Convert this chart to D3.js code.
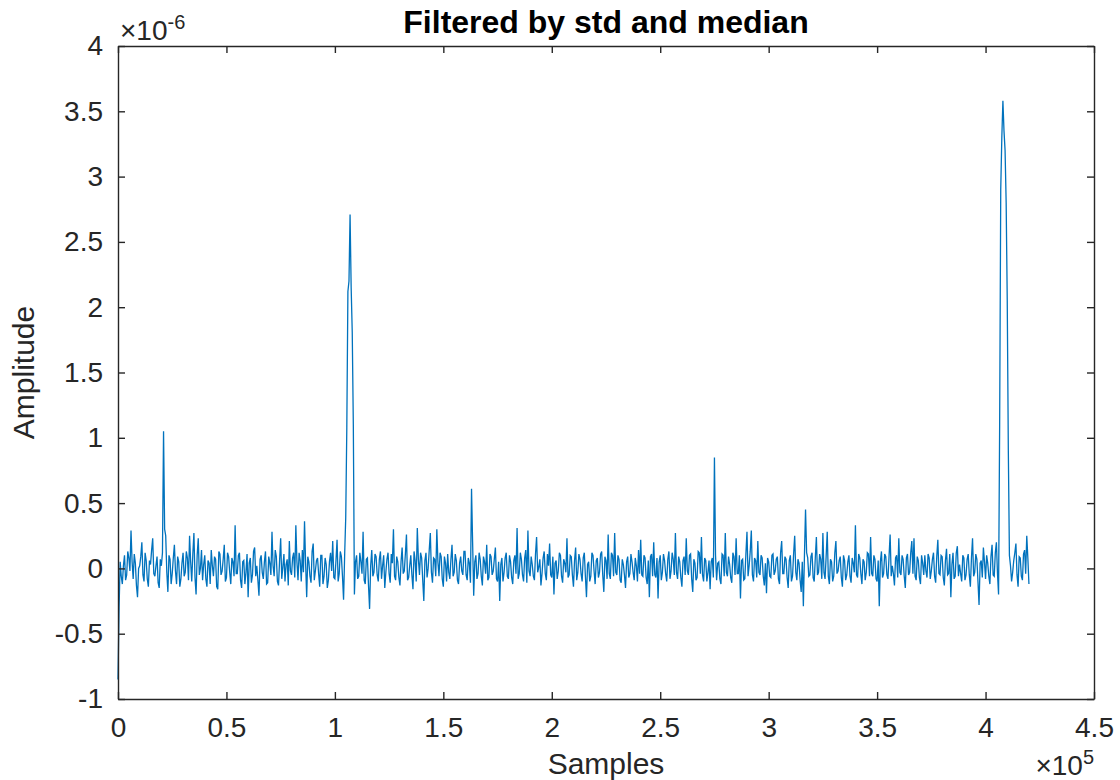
<!DOCTYPE html>
<html>
<head>
<meta charset="utf-8">
<script src="https://cdn.jsdelivr.net/npm/d3@7"></script>
<style>
    body { margin: 0; background: #fff; }
    #chart { width: 1120px; height: 780px; }
    text { font-family: "Liberation Sans", Arial, sans-serif; fill: #262626; }
</style>
</head>
<body>
<div id="chart"></div>
<script>

// amplitude, units of 1e-6, one reading every 1000 samples (at 0, 1000, 2000 ...)
const amplitude = [
    -0.85, 0.05, -0.12, 0.10, -0.05, 0.08, 0.29, -0.08, 0.04, -0.22, 0.02, 0.20, -0.10, 0.06, -0.14, 0.03, 0.23, -0.06, 0.09, -0.15,
    0.02, 1.05, 0.25, -0.18, 0.07, -0.04, 0.18, -0.12, 0.05, -0.08, 0.12, -0.03, 0.08, 0.25, -0.10, 0.27, -0.20, 0.23, 0.00, -0.09,
    0.10, -0.14, 0.04, 0.14, -0.06, 0.07, -0.16, 0.11, -0.02, 0.18, -0.07, 0.09, -0.12, 0.05, 0.33, -0.04, 0.12, -0.15, 0.06, -0.03,
    -0.22, 0.08, -0.05, 0.16, 0.02, -0.21, 0.10, -0.08, 0.13, -0.11, 0.04, 0.28, -0.06, 0.09, -0.13, 0.23, 0.01, -0.10, 0.07, 0.21,
    -0.05, 0.12, 0.33, -0.09, 0.06, 0.14, 0.36, -0.22, 0.05, -0.11, 0.19, -0.02, 0.08, -0.14, 0.10, -0.06, 0.03, -0.09, 0.12, 0.21,
    -0.08, 0.22, -0.04, 0.09, -0.24, 0.39, 2.12, 2.71, 1.81, -0.20, 0.10, -0.06, 0.05, 0.28, -0.12, 0.08, -0.31, 0.14, -0.03, 0.09,
    -0.10, 0.13, 0.02, -0.15, 0.07, -0.04, 0.11, 0.30, -0.09, 0.05, -0.13, 0.16, -0.02, 0.26, -0.07, 0.10, -0.16, 0.06, 0.31, -0.05,
    0.08, -0.25, 0.12, 0.00, 0.27, -0.11, 0.07, 0.30, -0.06, 0.09, -0.14, 0.04, 0.11, -0.08, 0.18, -0.03, 0.06, -0.12, 0.09, -0.05,
    0.13, -0.09, 0.04, 0.61, -0.21, 0.10, -0.04, 0.07, -0.13, 0.05, 0.18, -0.07, 0.09, -0.02, 0.16, -0.10, -0.25, 0.08, -0.03, 0.12,
    -0.08, 0.05, -0.12, 0.10, 0.31, -0.04, 0.07, -0.10, 0.14, 0.29, -0.06, 0.03, -0.09, 0.24, 0.01, -0.13, 0.08, -0.04, 0.11, 0.19,
    -0.07, -0.20, 0.06, -0.02, 0.10, -0.11, 0.04, 0.23, -0.05, 0.09, -0.14, 0.16, -0.03, 0.07, -0.10, 0.12, -0.22, 0.05, -0.06, 0.10,
    -0.12, 0.08, -0.03, 0.13, -0.18, 0.06, 0.26, -0.08, 0.10, 0.27, -0.05, 0.07, -0.11, 0.03, -0.15, 0.09, -0.04, 0.05, -0.09, 0.02,
    0.14, 0.22, -0.06, 0.08, -0.12, -0.22, 0.11, 0.20, -0.07, -0.23, 0.10, -0.03, 0.06, -0.10, 0.13, -0.02, 0.07, 0.27, -0.08, 0.05,
    -0.14, 0.09, 0.23, -0.05, 0.11, -0.18, 0.04, -0.07, 0.12, 0.24, -0.10, 0.06, -0.03, -0.16, 0.08, 0.85, -0.09, 0.05, -0.12, 0.10,
    0.27, -0.06, 0.03, -0.11, 0.09, 0.23, -0.04, -0.23, 0.07, -0.08, 0.28, 0.02, 0.29, -0.10, 0.06, 0.21, -0.05, 0.08, -0.13, -0.19,
    0.05, -0.07, 0.11, -0.02, 0.09, -0.12, 0.21, -0.04, 0.07, -0.15, 0.10, -0.06, 0.25, -0.09, 0.04, -0.18, -0.29, 0.45, 0.08, -0.05,
    0.12, -0.10, 0.24, -0.03, 0.07, 0.27, -0.08, 0.28, -0.12, 0.05, -0.06, 0.21, -0.02, 0.09, -0.14, 0.06, -0.05, 0.10, -0.11, 0.04,
    0.33, -0.07, 0.08, -0.12, 0.05, -0.03, 0.11, 0.24, -0.06, 0.07, -0.10, -0.29, 0.13, -0.04, 0.09, -0.08, 0.26, 0.02, -0.13, 0.10,
    0.23, -0.05, 0.07, -0.15, 0.11, -0.03, 0.21, 0.23, -0.09, 0.06, -0.12, 0.04, 0.10, -0.07, 0.08, -0.02, 0.12, -0.11, 0.22, -0.05,
    0.09, -0.13, 0.15, -0.04, -0.22, 0.12, -0.06, 0.17, 0.03, -0.10, 0.08, -0.05, 0.11, -0.14, 0.23, -0.03, 0.07, -0.28, 0.06, 0.16,
    -0.08, 0.04, -0.12, 0.18, -0.06, 0.20, -0.20, 2.90, 3.58, 3.20, 2.05, 0.10, -0.10, 0.06, 0.19, -0.14, 0.08, -0.09, 0.14, 0.25, -0.12
];

// in-between readings, at 500, 1500, 2500 ... samples
const amplitudeMid = [
    -0.30, -0.06, 0.02, -0.09, 0.13, -0.02, 0.05, 0.11, -0.13, 0.00, 0.09, -0.05, 0.12, -0.08, 0.06, 0.14, -0.04, 0.02, -0.11, 0.07,
    0.12, 0.30, -0.03, 0.10, -0.12, 0.08, -0.02, 0.09, -0.14, 0.04, -0.06, 0.13, -0.09, 0.05, 0.11, -0.07, 0.10, -0.05, 0.14, 0.03,
    -0.08, 0.06, -0.12, 0.02, 0.09, -0.14, 0.13, -0.05, 0.07, -0.10, 0.12, -0.03, 0.08, -0.06, -0.04, 0.10, -0.09, 0.05, -0.12, 0.11,
    0.04, -0.11, 0.13, -0.06, -0.09, 0.07, -0.03, 0.05, -0.12, 0.09, -0.05, 0.02, 0.14, -0.10, 0.06, -0.08, 0.11, 0.03, -0.13, -0.02,
    0.08, -0.07, 0.05, 0.12, -0.10, -0.03, 0.04, 0.09, -0.06, 0.13, -0.09, 0.06, -0.04, 0.10, -0.12, 0.08, -0.15, 0.05, -0.02, -0.07,
    0.06, -0.10, 0.13, -0.06, 0.10, 1.08, 2.20, 2.15, 1.10, 0.05, -0.08, 0.12, -0.04, -0.09, 0.07, -0.13, 0.02, -0.06, 0.11, -0.05,
    0.07, -0.08, 0.10, -0.03, 0.12, -0.11, 0.04, -0.06, 0.09, -0.07, 0.05, -0.04, 0.11, -0.09, 0.02, -0.05, 0.13, -0.10, 0.07, 0.12,
    -0.09, 0.06, -0.07, 0.14, -0.03, 0.08, -0.06, 0.05, 0.12, -0.08, 0.09, -0.10, -0.03, 0.07, -0.06, 0.11, -0.09, 0.04, -0.02, 0.13,
    -0.05, 0.08, -0.11, 0.20, 0.05, -0.08, 0.12, -0.06, 0.09, -0.04, -0.09, 0.11, -0.05, 0.07, -0.08, 0.05, 0.03, -0.10, 0.08, -0.06,
    0.10, -0.07, 0.06, -0.04, -0.08, 0.12, -0.05, 0.08, -0.11, -0.02, 0.09, -0.06, 0.11, -0.03, 0.07, -0.04, 0.13, -0.09, 0.02, -0.05,
    0.09, 0.04, -0.08, 0.12, -0.06, 0.07, -0.03, -0.07, 0.10, -0.05, 0.06, -0.09, 0.11, -0.04, 0.08, -0.06, 0.03, -0.10, 0.12, -0.02,
    0.06, -0.07, 0.11, -0.05, 0.09, -0.08, -0.04, 0.12, -0.06, -0.03, 0.10, -0.09, 0.07, -0.05, 0.05, -0.07, 0.11, -0.03, 0.08, -0.10,
    -0.04, -0.05, 0.10, -0.07, 0.06, 0.09, -0.06, -0.05, 0.08, 0.05, -0.09, 0.11, -0.04, 0.07, -0.08, 0.12, -0.05, -0.03, 0.09, -0.07,
    0.06, -0.05, -0.02, 0.10, -0.08, 0.07, -0.09, 0.13, -0.04, -0.05, 0.08, -0.10, 0.06, 0.05, -0.07, 0.10, 0.04, -0.08, 0.11, -0.06,
    -0.03, 0.09, -0.07, 0.12, -0.05, -0.04, 0.10, 0.06, -0.09, 0.11, -0.06, 0.13, -0.05, 0.08, -0.07, -0.03, 0.10, -0.06, 0.04, 0.08,
    -0.06, 0.10, -0.05, 0.07, -0.08, 0.12, -0.04, 0.09, -0.07, 0.06, -0.10, 0.11, -0.03, 0.07, -0.09, 0.05, 0.10, 0.12, -0.06, 0.09,
    -0.07, 0.08, -0.05, 0.11, -0.08, -0.03, 0.09, -0.06, 0.07, -0.10, 0.12, -0.04, 0.06, -0.07, 0.10, -0.09, 0.05, -0.06, 0.08, -0.03,
    -0.05, 0.11, -0.04, 0.07, -0.09, 0.12, -0.06, -0.04, 0.10, -0.08, 0.06, 0.05, -0.07, 0.11, -0.05, 0.09, -0.06, -0.04, 0.08, -0.07,
    -0.03, 0.10, -0.06, 0.08, -0.05, 0.12, -0.04, -0.06, 0.09, -0.07, 0.10, -0.05, -0.02, 0.11, -0.08, 0.07, -0.06, 0.09, -0.04, 0.10,
    -0.07, 0.06, -0.05, 0.11, 0.03, -0.08, 0.12, -0.06, -0.04, 0.10, -0.09, 0.07, -0.05, 0.08, -0.06, 0.11, -0.10, 0.04, -0.07, 0.05,
    0.10, -0.06, 0.09, -0.05, 0.12, -0.04, 1.10, 3.30, 3.35, 2.80, 0.90, 0.02, -0.03, 0.12, -0.05, 0.09, -0.06, 0.11, -0.04, 0.08
];
const sampleStep = 1000;

const xTicks = [0, 50000, 100000, 150000, 200000, 250000, 300000, 350000, 400000, 450000];
const xTickLabels = ["0", "0.5", "1", "1.5", "2", "2.5", "3", "3.5", "4", "4.5"];
const yTicks = [-1, -0.5, 0, 0.5, 1, 1.5, 2, 2.5, 3, 3.5, 4];
const yTickLabels = ["-1", "-0.5", "0", "0.5", "1", "1.5", "2", "2.5", "3", "3.5", "4"];

const titleText = "Filtered by std and median";
const xLabelText = "Samples";
const yLabelText = "Amplitude";


class SignalPlot {
    constructor(_parentElement, _data, _midData) {
        this.parentElement = _parentElement;
        this.data = _data;
        this.midData = _midData;
        this.initVis();
    }

    initVis() {
        let vis = this;

        vis.margin = {top: 46, right: 26, bottom: 81, left: 118};
        vis.width = 1120 - vis.margin.left - vis.margin.right;
        vis.height = 780 - vis.margin.top - vis.margin.bottom;

        vis.svg = d3.select("#" + vis.parentElement).append("svg")
            .attr("width", 1120)
            .attr("height", 780)
            .append("g")
            .attr("transform", "translate(" + vis.margin.left + "," + vis.margin.top + ")");

        vis.x = d3.scaleLinear()
            .domain([0, 450000])
            .range([0, vis.width]);

        vis.y = d3.scaleLinear()
            .domain([-1, 4])
            .range([vis.height, 0]);

        // MATLAB style: ticks point inwards, mirrored on top and right
        vis.xAxis = d3.axisBottom(vis.x)
            .tickValues(xTicks)
            .tickFormat((d, i) => xTickLabels[i])
            .tickSizeInner(-7)
            .tickSizeOuter(0)
            .tickPadding(18);

        vis.yAxis = d3.axisLeft(vis.y)
            .tickValues(yTicks)
            .tickFormat((d, i) => yTickLabels[i])
            .tickSizeInner(-7)
            .tickSizeOuter(0)
            .tickPadding(15);

        vis.xAxisTop = d3.axisTop(vis.x).tickValues(xTicks).tickFormat("").tickSizeInner(-7).tickSizeOuter(0);
        vis.yAxisRight = d3.axisRight(vis.y).tickValues(yTicks).tickFormat("").tickSizeInner(-7).tickSizeOuter(0);

        vis.line = d3.line()
            .x(d => vis.x(d.sample))
            .y(d => vis.y(d.value));

        vis.wrangleData();
    }

    wrangleData() {
        let vis = this;

        // interleave the two sets of readings into one trace
        vis.displayData = [];
        vis.data.forEach((v, i) => {
            vis.displayData.push({sample: i * sampleStep, value: v});
            if (i < vis.midData.length) {
                vis.displayData.push({sample: (i + 0.5) * sampleStep, value: vis.midData[i]});
            }
        });

        vis.updateVis();
    }

    updateVis() {
        let vis = this;

        vis.svg.append("path")
            .datum(vis.displayData)
            .attr("class", "trace")
            .attr("d", vis.line)
            .style("fill", "none")
            .style("stroke", "#0072BD")
            .style("stroke-width", 1.3)
            .style("stroke-linejoin", "miter");

        let axes = [
            vis.svg.append("g").attr("class", "axis x-axis").attr("transform", `translate(0, ${vis.height})`).call(vis.xAxis),
            vis.svg.append("g").attr("class", "axis y-axis").call(vis.yAxis),
            vis.svg.append("g").attr("class", "axis x-axis-top").call(vis.xAxisTop),
            vis.svg.append("g").attr("class", "axis y-axis-right").attr("transform", `translate(${vis.width}, 0)`).call(vis.yAxisRight)
        ];

        axes.forEach(g => {
            g.select(".domain").style("stroke", "#262626").style("stroke-width", 1.4);
            g.selectAll(".tick line").style("stroke", "#262626").style("stroke-width", 1.4);
            g.selectAll(".tick text")
                .style("font-size", "28px")
                .style("font-family", "'Liberation Sans', Arial, sans-serif")
                .style("fill", "#262626");
        });

        // exponent labels
        vis.svg.append("text")
            .attr("x", vis.width)
            .attr("y", vis.height + 76)
            .style("text-anchor", "end")
            .style("font-size", "28px")
            .html("×10<tspan dy='-11' font-size='20px'>5</tspan>");

        vis.svg.append("text")
            .attr("x", 2)
            .attr("y", -6)
            .style("font-size", "28px")
            .html("×10<tspan dy='-11' font-size='20px'>-6</tspan>");

        vis.svg.append("text")
            .attr("x", vis.width / 2)
            .attr("y", -13)
            .style("text-anchor", "middle")
            .style("font-size", "32px")
            .style("font-weight", "bold")
            .style("fill", "#000")
            .text(titleText);

        vis.svg.append("text")
            .attr("x", vis.width / 2)
            .attr("y", vis.height + 75)
            .style("text-anchor", "middle")
            .style("font-size", "30px")
            .text(xLabelText);

        vis.svg.append("text")
            .attr("transform", `translate(${-84}, ${vis.height / 2}) rotate(-90)`)
            .style("text-anchor", "middle")
            .style("font-size", "30px")
            .text(yLabelText);
    }
}

new SignalPlot("chart", amplitude, amplitudeMid);

</script>
</body>
</html>
